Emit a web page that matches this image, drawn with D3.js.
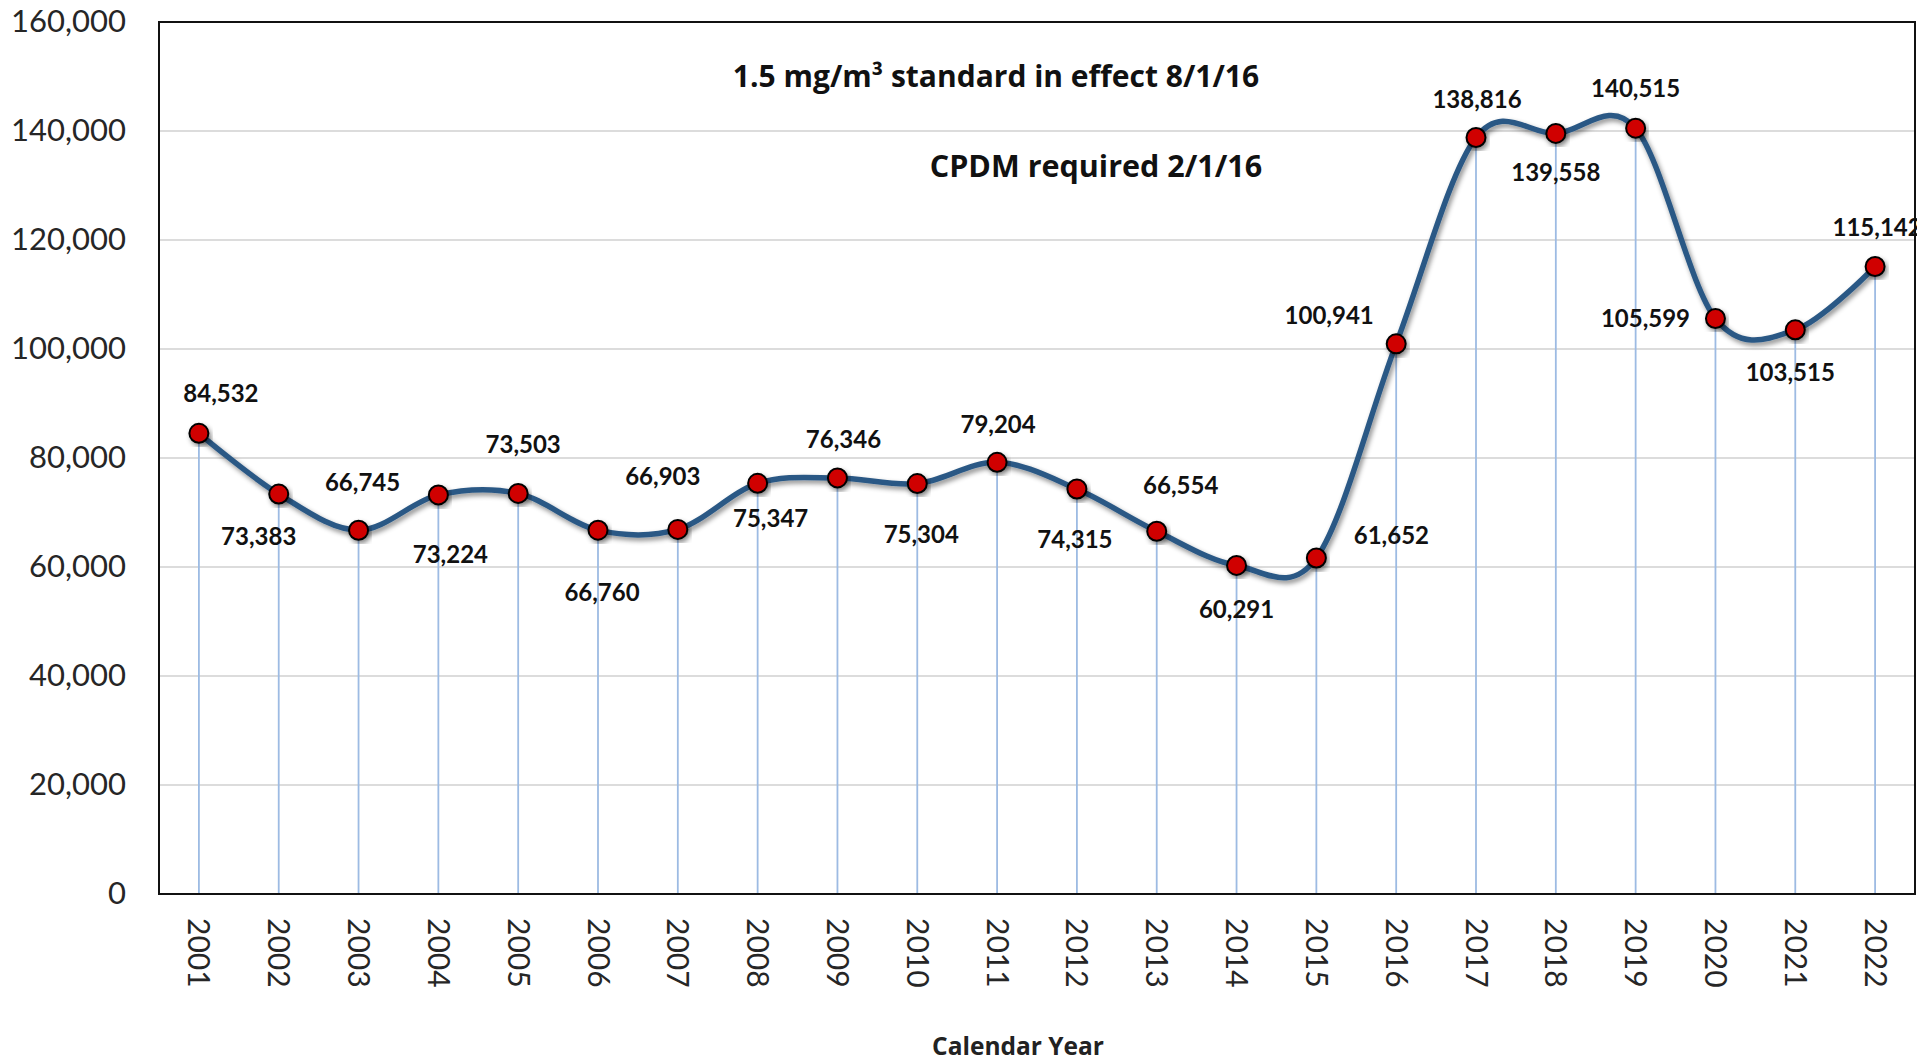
<!DOCTYPE html>
<html><head><meta charset="utf-8">
<script src="https://cdn.jsdelivr.net/npm/d3@7"></script>
<style>body{margin:0;background:#fff;overflow:hidden}</style>
</head><body>
<svg id="c" width="1917" height="1061"></svg>
<script>
const years = ["2001","2002","2003","2004","2005","2006","2007","2008","2009","2010","2011","2012","2013","2014","2015","2016","2017","2018","2019","2020","2021","2022"];
const values = [84532,73383,66745,73224,73503,66760,66903,75347,76346,75304,79204,74315,66554,60291,61652,100941,138816,139558,140515,105599,103515,115142];
const yTicks = [0,20000,40000,60000,80000,100000,120000,140000,160000];
const labelDx = [22,-20,4,12,5,4,-15,13,6,4,1,-2,24,0,75,-67,1,0,0,-70,-5,2];
const labelDy = [-40,43,-48,60,-49,62,-53,35,-38,51,-38,51,-46,44,-22,-28,-38,39,-40,0,43,-39];
const notes = ["1.5 mg/m³ standard in effect 8/1/16","CPDM required 2/1/16"];
const xTitle = "Calendar Year";

const L=159, T=22, R=1915, B=894;
const svg = d3.select("#c");
const defs = svg.append("defs");
const f = defs.append("filter").attr("id","sh").attr("x","-20%").attr("y","-20%").attr("width","140%").attr("height","140%");
f.append("feDropShadow").attr("dx",2).attr("dy",3).attr("stdDeviation",2.5).attr("flood-color","#000").attr("flood-opacity",0.45);

const x = d3.scaleBand().domain(years).range([L,R]).padding(0);
const y = d3.scaleLinear().domain([0,160000]).range([B,T]);
const cx = d => x(d)+x.bandwidth()/2;

// gridlines
svg.append("g").selectAll("line").data(yTicks.slice(1,-1)).join("line")
  .attr("x1",L).attr("x2",R).attr("y1",d=>y(d)).attr("y2",d=>y(d))
  .attr("stroke","#d0d0d0").attr("stroke-width",1.6);

// y axis labels
const ya = svg.append("g").attr("transform",`translate(${L},0)`)
  .call(d3.axisLeft(y).tickValues(yTicks).tickSize(0).tickPadding(33).tickFormat(d3.format(",")));
ya.select(".domain").remove();
ya.selectAll("text").attr("font-family","Lato, 'Open Sans', sans-serif").attr("font-size",31).attr("fill","#262626");

// x axis labels
const xa = svg.append("g").attr("transform",`translate(0,${B})`)
  .call(d3.axisBottom(x).tickSize(0).tickPadding(0));
xa.select(".domain").remove();
xa.selectAll("text").attr("font-family","Lato, 'Open Sans', sans-serif").attr("font-size",30).attr("fill","#262626")
  .attr("transform","translate(0,24) rotate(90)").attr("text-anchor","start").attr("dy","0.35em").attr("y",0).attr("x",0);

// drop lines
svg.append("g").selectAll("line").data(years).join("line")
  .attr("x1",d=>cx(d)).attr("x2",d=>cx(d)).attr("y1",(d,i)=>y(values[i])).attr("y2",B)
  .attr("stroke","#9dbbe3").attr("stroke-width",1.8);

// plot border
svg.append("rect").attr("x",L).attr("y",T).attr("width",R-L).attr("height",B-T)
  .attr("fill","none").attr("stroke","#111").attr("stroke-width",2);

// line
const line = d3.line().x((d,i)=>cx(years[i])).y(d=>y(d)).curve(d3.curveCardinal.tension(0));
svg.append("path").datum(values).attr("d",line).attr("fill","none")
  .attr("stroke","#2c5985").attr("stroke-width",5.5).attr("filter","url(#sh)");

// markers
svg.append("g").selectAll("circle").data(values).join("circle")
  .attr("cx",(d,i)=>cx(years[i])).attr("cy",d=>y(d)).attr("r",9.5)
  .attr("fill","#d00000").attr("stroke","#000").attr("stroke-width",2).attr("filter","url(#sh)");

// data labels
svg.append("g").selectAll("text").data(values).join("text")
  .attr("x",(d,i)=>cx(years[i])+labelDx[i]).attr("y",(d,i)=>y(d)+labelDy[i])
  .attr("text-anchor","middle").attr("dy","0.35em")
  .attr("font-family","Lato, 'Open Sans', sans-serif").attr("font-weight","bold").attr("font-size",24).attr("fill","#111")
  .text(d=>d3.format(",")(d));

// annotations
svg.append("text").attr("x",996).attr("y",76).attr("dy","0.35em").attr("text-anchor","middle")
  .attr("font-family","'Open Sans', Lato, sans-serif").attr("font-weight","bold").attr("font-size",30).attr("fill","#111").text(notes[0]);
svg.append("text").attr("x",1096).attr("y",166).attr("dy","0.35em").attr("text-anchor","middle")
  .attr("font-family","'Open Sans', Lato, sans-serif").attr("font-weight","bold").attr("font-size",30.5).attr("fill","#111").text(notes[1]);

// x title
svg.append("text").attr("x",1018).attr("y",1046).attr("dy","0.35em").attr("text-anchor","middle")
  .attr("font-family","'Open Sans', Lato, sans-serif").attr("font-weight","bold").attr("font-size",24.5).attr("fill","#222").text(xTitle);
</script>
</body></html>
